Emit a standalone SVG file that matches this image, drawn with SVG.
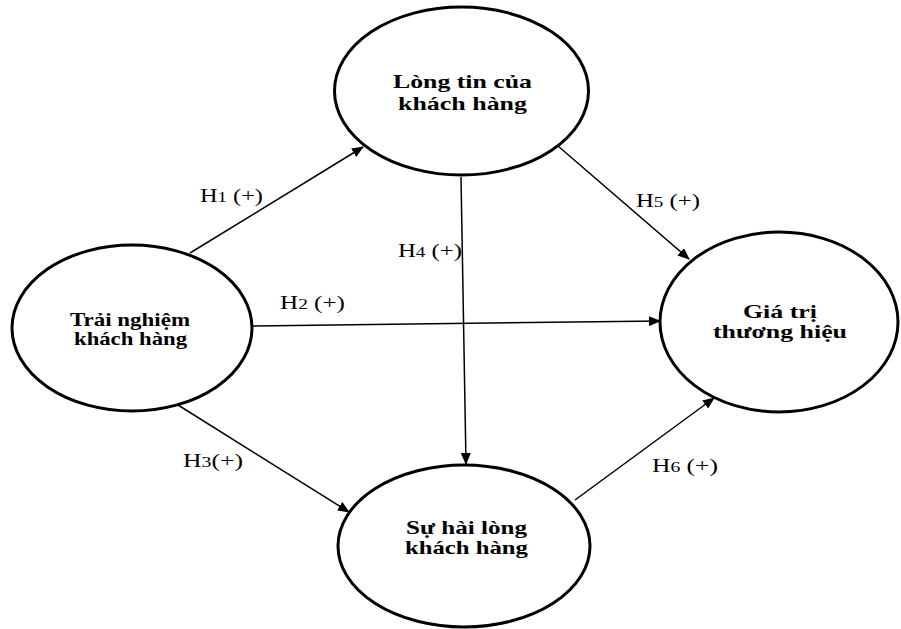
<svg xmlns="http://www.w3.org/2000/svg" width="901" height="629" viewBox="0 0 901 629">
<style>
.node{fill:#fff;stroke:#000;stroke-width:3}
.nt{font-family:"Liberation Serif","Times New Roman",serif;font-weight:bold;font-size:19px;fill:#000}
.lbl{font-family:"Liberation Serif","Times New Roman",serif;font-size:19.5px;fill:#000}
.sub{font-size:15px}
.edge{stroke:#000;stroke-width:1.5;fill:none;marker-end:url(#arr)}
</style>
<defs>
<marker id="arr" markerWidth="12" markerHeight="10" refX="11" refY="5" orient="auto" markerUnits="userSpaceOnUse">
<path d="M0,0 L12,5 L0,10 Z" fill="#000"/>
</marker>
</defs>
<rect width="901" height="629" fill="#fff"/>
<g id="connectors">
<line class="edge" x1="190" y1="253" x2="363" y2="147"/>
<line class="edge" x1="252" y1="326" x2="660" y2="321"/>
<line class="edge" x1="178" y1="405" x2="349" y2="512"/>
<line class="edge" x1="461" y1="177" x2="466" y2="464"/>
<line class="edge" x1="558" y1="146" x2="689" y2="259"/>
<line class="edge" x1="575" y1="500" x2="714" y2="398"/>
</g>
<g id="labels">
<text class="lbl" x="200" y="202" textLength="63" lengthAdjust="spacingAndGlyphs">H<tspan class="sub">1</tspan> (+)</text>
<text class="lbl" x="280" y="309" textLength="65" lengthAdjust="spacingAndGlyphs">H<tspan class="sub">2</tspan> (+)</text>
<text class="lbl" x="183" y="467" textLength="60" lengthAdjust="spacingAndGlyphs">H<tspan class="sub">3</tspan>(+)</text>
<text class="lbl" x="398" y="257" textLength="64" lengthAdjust="spacingAndGlyphs">H<tspan class="sub">4</tspan> (+)</text>
<text class="lbl" x="636" y="207" textLength="64" lengthAdjust="spacingAndGlyphs">H<tspan class="sub">5</tspan> (+)</text>
<text class="lbl" x="652" y="472" textLength="66" lengthAdjust="spacingAndGlyphs">H<tspan class="sub">6</tspan> (+)</text>
</g>
<g id="node-trust">
<ellipse class="node" cx="461.5" cy="91" rx="127" ry="84"/>
<text class="nt" x="393" y="88" textLength="139" lengthAdjust="spacingAndGlyphs">Lòng tin của</text>
<text class="nt" x="398" y="110" textLength="129" lengthAdjust="spacingAndGlyphs">khách hàng</text>
</g>
<g id="node-experience">
<ellipse class="node" cx="132" cy="328" rx="120" ry="83"/>
<text class="nt" x="70" y="326" textLength="120" lengthAdjust="spacingAndGlyphs">Trải nghiệm</text>
<text class="nt" x="74" y="345" textLength="113" lengthAdjust="spacingAndGlyphs">khách hàng</text>
</g>
<g id="node-brand">
<ellipse class="node" cx="779" cy="322" rx="119" ry="90"/>
<text class="nt" x="743" y="318" textLength="74" lengthAdjust="spacingAndGlyphs">Giá trị</text>
<text class="nt" x="713" y="338" textLength="134" lengthAdjust="spacingAndGlyphs">thương hiệu</text>
</g>
<g id="node-satisfaction">
<ellipse class="node" cx="464" cy="546" rx="126" ry="81"/>
<text class="nt" x="406" y="534" textLength="121" lengthAdjust="spacingAndGlyphs">Sự hài lòng</text>
<text class="nt" x="405" y="554" textLength="123" lengthAdjust="spacingAndGlyphs">khách hàng</text>
</g>
</svg>
